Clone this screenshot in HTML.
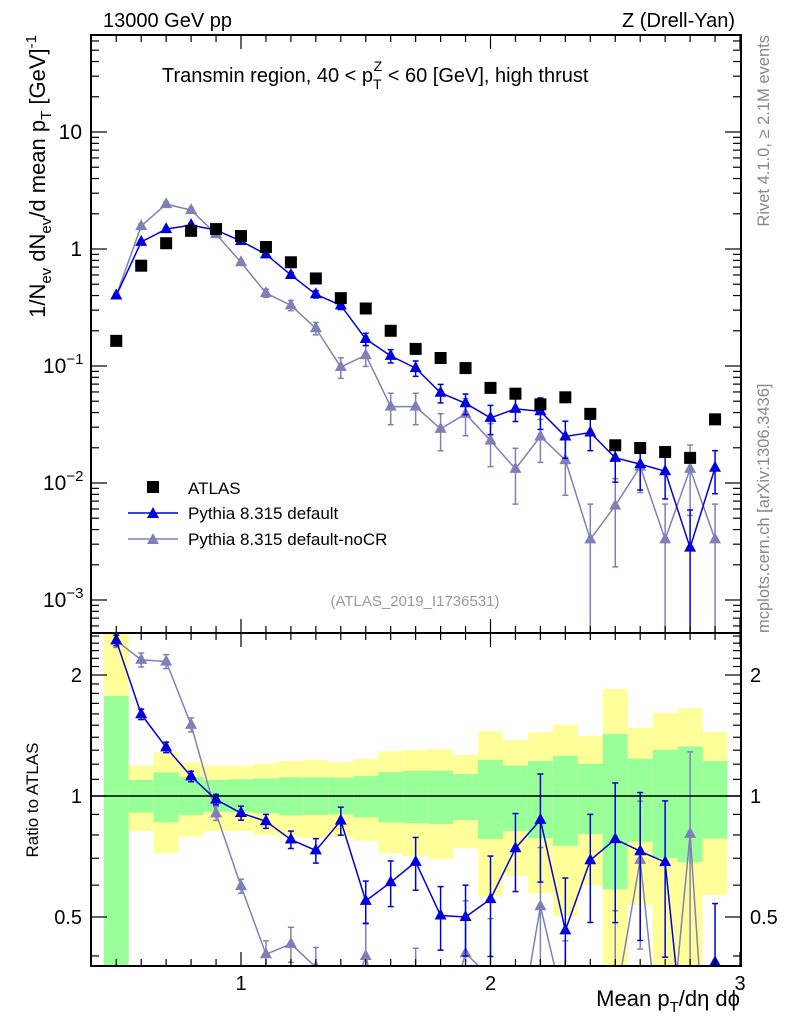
<!DOCTYPE html>
<html><head><meta charset="utf-8"><style>
html,body{margin:0;padding:0;background:#fff;overflow:hidden;width:786px;height:1024px}
svg{display:block;font-family:"Liberation Sans",sans-serif}
</style></head><body>
<svg id="c" width="786" height="1024" viewBox="0 0 786 1024" xmlns="http://www.w3.org/2000/svg">
<defs>
<clipPath id="cm"><rect x="91" y="35" width="650" height="598"/></clipPath>
<clipPath id="cr"><rect x="91" y="633" width="650" height="333"/></clipPath>
</defs>
<g id="bands" clip-path="url(#cr)"></g>
<g id="mainMarks" clip-path="url(#cm)"></g>
<g id="ratioMarks" clip-path="url(#cr)"></g>
<rect x="91" y="35" width="650" height="598" fill="none" stroke="#000" stroke-width="2"/>
<rect x="91" y="633" width="650" height="333" fill="none" stroke="#000" stroke-width="2"/>
<line x1="91" x2="741" y1="796" y2="796" stroke="#000" stroke-width="1.5"/>
<g id="ticks"></g>
<text x="103" y="27" font-size="20">13000 GeV pp</text>
<text x="735" y="27" font-size="20" text-anchor="end">Z (Drell-Yan)</text>
<text x="162" y="82" font-size="20">Transmin region, 40 &lt; p<tspan font-size="14" dy="7">T</tspan><tspan font-size="14" dx="-8" dy="-18">Z</tspan><tspan dy="11"> &lt; 60 [GeV], high thrust</tspan></text>
<text transform="translate(45,35) rotate(-90)" font-size="22" text-anchor="end">1/N<tspan font-size="15" dy="6">ev</tspan><tspan dy="-6"> dN</tspan><tspan font-size="15" dy="6">ev</tspan><tspan dy="-6">/d mean p</tspan><tspan font-size="15" dy="6">T</tspan><tspan dy="-6"> [GeV]</tspan><tspan font-size="15" dy="-9">-1</tspan></text>
<text transform="translate(38,800) rotate(-90)" font-size="17" text-anchor="middle">Ratio to ATLAS</text>
<text x="740" y="1006" font-size="22" text-anchor="end">Mean p<tspan font-size="15" dy="6">T</tspan><tspan dy="-6">/dη dϕ</tspan></text>
<text transform="translate(769,35) rotate(-90)" font-size="16.5" fill="#888" text-anchor="end">Rivet 4.1.0, ≥ 2.1M events</text>
<text transform="translate(769,633) rotate(-90)" font-size="16.5" fill="#888" text-anchor="start">mcplots.cern.ch [arXiv:1306.3436]</text>
<text x="415" y="606" font-size="15" fill="#999" text-anchor="middle">(ATLAS_2019_I1736531)</text>
<g>
<rect x="147" y="481" width="12" height="12" fill="#000"/>
<text x="188" y="494" font-size="17">ATLAS</text>
<line x1="128" x2="178" y1="513" y2="513" stroke="#0000dd" stroke-width="1.5"/>
<polygon points="153,507 159,518 147,518" fill="#0000dd"/>
<text x="188" y="519" font-size="17">Pythia 8.315 default</text>
<line x1="128" x2="178" y1="539" y2="539" stroke="#8080b8" stroke-width="1.5"/>
<polygon points="153,533 159,544 147,544" fill="#8080b8"/>
<text x="188" y="545" font-size="17">Pythia 8.315 default-noCR</text>
</g>
</svg>
<script>
const xc=[0.5,0.6,0.7,0.8,0.9,1.0,1.1,1.2,1.3,1.4,1.5,1.6,1.7,1.8,1.9,2.0,2.1,2.2,2.3,2.4,2.5,2.6,2.7,2.8,2.9];
const atlas=[0.164,0.72,1.12,1.43,1.48,1.29,1.04,0.77,0.56,0.38,0.31,0.2,0.14,0.117,0.096,0.065,0.058,0.047,0.054,0.039,0.021,0.0199,0.0184,0.0164,0.035];
const pyDef=[0.40,1.15,1.48,1.6,1.45,1.17,0.9,0.6,0.41,0.33,0.17,0.122,0.096,0.059,0.048,0.036,0.043,0.041,0.025,0.027,0.0164,0.0145,0.0126,0.0028,0.0135];
const pyDefErr=[0.03,0.03,0.03,0.03,0.03,0.04,0.04,0.05,0.07,0.08,0.12,0.13,0.15,0.18,0.2,0.28,0.22,0.3,0.35,0.3,0.38,0.4,0.42,1.1,0.4];
const pyNoCR=[0.40,1.57,2.42,2.15,1.34,0.77,0.42,0.33,0.21,0.098,0.124,0.045,0.045,0.029,0.039,0.023,0.0132,0.025,0.0157,0.0033,0.0064,0.0138,0.0033,0.0132,0.0033];
const pyNoCRErr=[0.04,0.04,0.04,0.04,0.04,0.04,0.08,0.1,0.12,0.2,0.2,0.3,0.3,0.35,0.35,0.4,0.5,0.4,0.5,1.0,0.7,0.4,1.0,0.6,1.0];
const greenHi=[1.773,1.096,1.145,1.117,1.096,1.100,1.106,1.113,1.113,1.111,1.121,1.147,1.154,1.156,1.134,1.229,1.190,1.222,1.258,1.203,1.426,1.238,1.302,1.329,1.222];
const greenLo=[0.3,0.909,0.860,0.897,0.914,0.911,0.906,0.895,0.897,0.900,0.885,0.860,0.855,0.852,0.872,0.782,0.818,0.785,0.752,0.804,0.586,0.770,0.701,0.684,0.783];
const yellowHi=[3,1.190,1.284,1.213,1.190,1.190,1.206,1.222,1.229,1.213,1.236,1.292,1.302,1.309,1.265,1.451,1.376,1.440,1.505,1.410,1.846,1.476,1.609,1.652,1.443];
const yellowLo=[0.3,0.818,0.720,0.792,0.818,0.818,0.800,0.792,0.785,0.792,0.774,0.720,0.709,0.696,0.741,0.562,0.633,0.573,0.504,0.600,0.3,0.536,0.3,0.3,0.567];
const xTickLabels=["1","2","3"];

const NS="http://www.w3.org/2000/svg";
const X=v=>241+(v-1)*249.5;
const Y=v=>249-Math.log10(v)*117;
const R=v=>796-Math.log2(v)*121;
const BW=0.05;
function mk(p,tag,a){const e=document.createElementNS(NS,tag);for(const k in a)e.setAttribute(k,a[k]);p.appendChild(e);return e;}
const bands=document.getElementById('bands'),mm=document.getElementById('mainMarks'),rm=document.getElementById('ratioMarks'),tk=document.getElementById('ticks');

xc.forEach((x,i)=>{
  const y1=mk(bands,'rect',{x:X(x-BW),width:X(x+BW)-X(x-BW),y:R(yellowHi[i]),height:R(yellowLo[i])-R(yellowHi[i]),fill:'#ffff99'});
  
  
  const g1=mk(bands,'rect',{x:X(x-BW),width:X(x+BW)-X(x-BW),y:R(greenHi[i]),height:R(greenLo[i])-R(greenHi[i]),fill:'#99ff99'});
  
  
});

function tri(p,cx,cy,col,name){
  const t=mk(p,'polygon',{points:`${cx},${cy-7} ${cx+6},${cy+4} ${cx-6},${cy+4}`,fill:col});
  
  
}
function errbar(p,x,top,bot,col){
  mk(p,'line',{x1:x,x2:x,y1:top,y2:bot,stroke:col,'stroke-width':1.5});
  mk(p,'line',{x1:x-3,x2:x+3,y1:top,y2:top,stroke:col,'stroke-width':1.5});
  mk(p,'line',{x1:x-3,x2:x+3,y1:bot,y2:bot,stroke:col,'stroke-width':1.5});
}
function series(vals,errs,col,name){
  const pm=xc.map((x,i)=>X(x)+','+Y(vals[i])).join(' ');
  const l1=mk(mm,'polyline',{points:pm,fill:'none',stroke:col,'stroke-width':1.5});
  
  
  const pr=xc.map((x,i)=>X(x)+','+R(vals[i]/atlas[i])).join(' ');
  const l2=mk(rm,'polyline',{points:pr,fill:'none',stroke:col,'stroke-width':1.5});
  
  
  xc.forEach((x,i)=>{
    const v=vals[i],e=v*errs[i];
    const lo=v-e>0?Math.min(Y(v-e),640):640;
    errbar(mm,X(x),Y(v+e),lo,col);
    const r=v/atlas[i],re=e/atlas[i];
    errbar(rm,X(x),R(r+re),r-re>0?Math.min(R(r-re),970):970,col);
    tri(mm,X(x),Y(v),col,name+'-point');
    tri(rm,X(x),R(r),col,name+'-ratio-point');
  });
}
series(pyNoCR,pyNoCRErr,'#8080b8','nocr');
series(pyDef,pyDefErr,'#0000dd','default');
xc.forEach((x,i)=>{
  const s=mk(mm,'rect',{x:X(x)-6,y:Y(atlas[i])-6,width:12,height:12,fill:'#000'});
  
  
});

for(let k=4;k<=30;k++){
  const x=X(k/10),maj=k%10==0;
  const L=maj?14:7;
  [[35,35+L],[633,633-L],[633,633+L],[966,966-L]].forEach(([a,b])=>mk(tk,'line',{x1:x,x2:x,y1:a,y2:b,stroke:'#000','stroke-width':1.2}));
}
xTickLabels.forEach((t,i)=>{
  const e=mk(tk,'text',{x:X(i+1),y:990,'font-size':20,'text-anchor':'middle'});e.textContent=t;
  
  
});
for(let d=-4;d<=1;d++){for(let m=1;m<=9;m++){
  const v=m*Math.pow(10,d),y=Y(v);if(y<35||y>633)continue;
  const L=m==1?16:8;
  mk(tk,'line',{x1:91,x2:91+L,y1:y,y2:y,stroke:'#000','stroke-width':1.2});
  mk(tk,'line',{x1:741,x2:741-L,y1:y,y2:y,stroke:'#000','stroke-width':1.2});
}}
const yl=[[10,'10',null],[1,'1',null],[0.1,'10','−1'],[0.01,'10','−2'],[0.001,'10','−3']];
yl.forEach(([v,b,s])=>{
  const e=mk(tk,'text',{x:s?68:82,y:Y(v)+7,'font-size':21,'text-anchor':'end'});
  e.textContent=b;
  if(s){e.setAttribute('text-anchor','start');e.setAttribute('x',43);const t=mk(e,'tspan',{'font-size':15,dy:-9});t.textContent=s;}
  
  
});
for(let k=4;k<=25;k++){
  const v=k/10,y=R(v);if(y<633||y>966)continue;
  const maj=(k==5||k==10||k==20);const L=maj?16:8;
  mk(tk,'line',{x1:91,x2:91+L,y1:y,y2:y,stroke:'#000','stroke-width':1.2});
  mk(tk,'line',{x1:741,x2:741-L,y1:y,y2:y,stroke:'#000','stroke-width':1.2});
}
[[2,'2'],[1,'1'],[0.5,'0.5']].forEach(([v,t])=>{
  const a=mk(tk,'text',{x:82,y:R(v)+7,'font-size':20,'text-anchor':'end'});a.textContent=t;
  
  
  const b=mk(tk,'text',{x:750,y:R(v)+7,'font-size':20});b.textContent=t;
  
  
});
</script>
</body></html>
